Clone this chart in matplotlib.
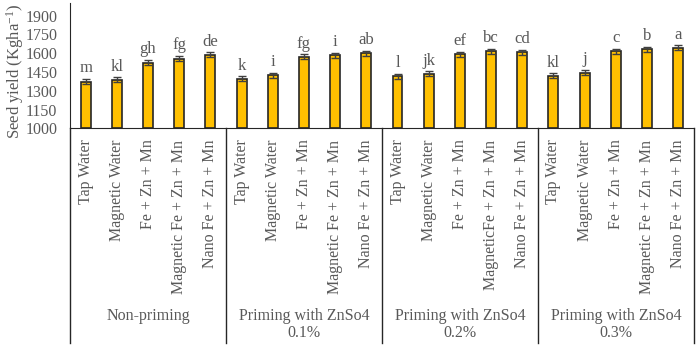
import matplotlib.pyplot as plt
from matplotlib.lines import Line2D

plt.rcParams['font.family'] = ['Liberation Serif', 'DejaVu Serif']
plt.rcParams['mathtext.fontset'] = 'custom'
plt.rcParams['mathtext.rm'] = 'Liberation Serif'
plt.rcParams['mathtext.it'] = 'Liberation Serif:italic'

treatments = ["Tap Water", "Magnetic Water", "Fe + Zn + Mn",
              "Magnetic Fe + Zn + Mn", "Nano Fe + Zn + Mn"]
treatments_b = ["Tap Water", "Magnetic Water", "Fe + Zn + Mn",
                "MagneticFe + Zn + Mn", "Nano Fe + Zn + Mn"]
groups = ["Non-priming", "Priming with ZnSo4\n0.1%",
          "Priming with ZnSo4\n0.2%", "Priming with ZnSo4\n0.3%"]
labels = treatments + treatments + treatments_b + treatments

yield_vals = [1373, 1388, 1525, 1557, 1587,
              1395, 1425, 1571, 1585, 1598,
              1417, 1435, 1593, 1614, 1609,
              1419, 1445, 1614, 1630, 1643]
errors = [20, 20, 20, 20, 20,
          20, 20, 20, 20, 20,
          20, 20, 20, 20, 20,
          20, 20, 20, 20, 20]
letters = ["m", "kl", "gh", "fg", "de",
           "k", "i", "fg", "i", "ab",
           "l", "jk", "ef", "bc", "cd",
           "kl", "j", "c", "b", "a"]

gray = '#595959'
fs = 11.5
fig = plt.figure(figsize=(6.98, 3.47), dpi=100)
ax = fig.add_axes([0.1003, 0.630, 0.8937, 0.361])

x = list(range(len(yield_vals)))
ax.bar(x, [v - 1000 for v in yield_vals], bottom=1000, width=0.32,
       color='#FFC000', edgecolor='#262626', linewidth=1.2,
       yerr=errors, error_kw=dict(ecolor='#404040', elinewidth=1.0, capsize=3, capthick=1.0))

for xi, v, e, t in zip(x, yield_vals, errors, letters):
    ax.annotate(t, (xi, v + e), xytext=(0, 2), textcoords='offset points',
                ha='center', va='bottom', fontsize=12, color=gray)

ax.set_xlim(-0.5, len(x) - 0.5)
ax.set_ylim(1000, 2000)
ax.set_yticks(range(1000, 1901, 150))
ax.tick_params(axis='y', length=0, pad=9, labelsize=fs, labelcolor=gray)
ax.set_xticks(x)
ax.set_xticklabels(labels, rotation=90, fontsize=fs, color=gray)
ax.tick_params(axis='x', length=0, pad=8)
ax.set_ylabel('Seed yield (Kgha$^{-1}$)', fontsize=12, color=gray)
ax.yaxis.set_label_coords(-0.07, 0.455)

for s in ['top', 'right']:
    ax.spines[s].set_visible(False)
ax.spines['left'].set_color('#262626')
ax.spines['bottom'].set_color('#262626')

# group separators and labels below the axis
for k in range(len(groups) + 1):
    xs = k * 5 - 0.5
    ax.add_line(Line2D([xs, xs], [0, -1.71], transform=ax.get_xaxis_transform(),
                       color='#262626', linewidth=1.0, clip_on=False))
for k, g in enumerate(groups):
    ax.text(k * 5 + 2, -1.43, g, transform=ax.get_xaxis_transform(),
            ha='center', va='top', fontsize=fs, color=gray, linespacing=1.15)

fig.savefig('out.png', dpi=100)
